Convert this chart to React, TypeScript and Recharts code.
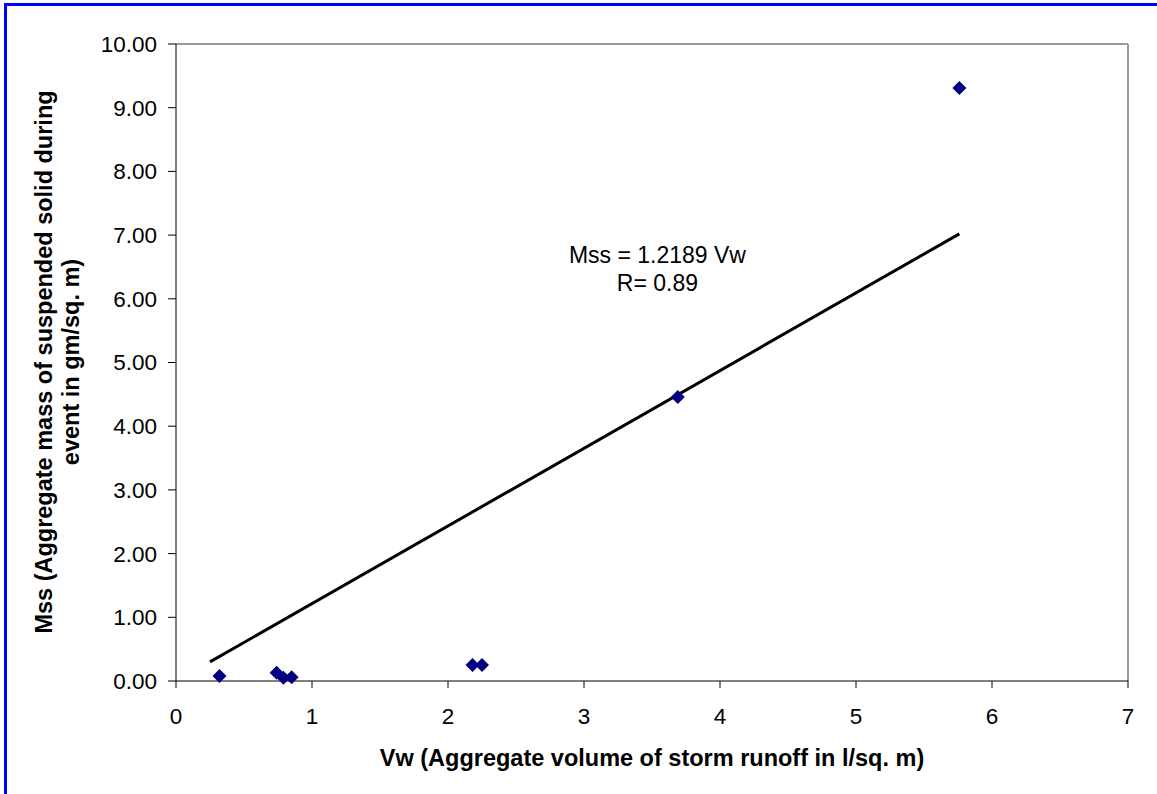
import React from "react"
import {
  ReferenceDot,
  ReferenceLine,
  Scatter,
  ScatterChart,
  XAxis,
  YAxis,
} from "recharts"

// observed events: Vw (l/sq. m) vs Mss (gm/sq. m)
const vwValues = [0.32, 0.74, 0.79, 0.85, 2.18, 2.25, 3.69, 5.76]
const mssValues = [0.08, 0.13, 0.05, 0.06, 0.25, 0.25, 4.46, 9.31]

// trend line endpoints (Mss = 1.2189 Vw)
const trendVw = [0.25, 5.76]
const trendMss = [0.3, 7.02]

const xTicks = [0, 1, 2, 3, 4, 5, 6, 7]
const yTicks = [0, 1, 2, 3, 4, 5, 6, 7, 8, 9, 10]

const points = vwValues.map((x, i) => ({ x, y: mssValues[i] }))
const trend = trendVw.map((x, i) => ({ x, y: trendMss[i] }))

const FONT = "'Liberation Sans', Arial, sans-serif"

const Diamond = (props: any) => {
  const { cx, cy } = props
  const r = 7
  return (
    <polygon
      points={`${cx},${cy - r} ${cx + r},${cy} ${cx},${cy + r} ${cx - r},${cy}`}
      fill="#000080"
    />
  )
}

const YTitle = () => (
  <text
    transform="translate(57, 362) rotate(-90)"
    textAnchor="middle"
    fontFamily={FONT}
    fontSize={23.5}
    fontWeight="bold"
    fill="#000"
  >
    <tspan x={0} dy={-5}>
      Mss (Aggregate mass of suspended solid during
    </tspan>
    <tspan x={0} dy={27}>
      event in gm/sq. m)
    </tspan>
  </text>
)

const Equation = (props: any) => {
  const { viewBox } = props
  const x = viewBox.x
  const y = viewBox.y
  return (
    <text
      textAnchor="middle"
      fontFamily={FONT}
      fontSize={23}
      fill="#000"
    >
      <tspan x={x} y={y + 8}>
        Mss = 1.2189 Vw
      </tspan>
      <tspan x={x} y={y + 36}>
        R= 0.89
      </tspan>
    </text>
  )
}

export default function App() {
  return (
    <div
      style={{
        position: "fixed",
        left: 0,
        top: 0,
        width: 1157,
        height: 794,
        background: "#fff",
      }}
    >
      <div
        style={{
          position: "absolute",
          left: 4,
          top: 3,
          width: 1160,
          height: 800,
          borderLeft: "3px solid #0000ff",
          borderTop: "3px solid #0000ff",
        }}
      />
      <div style={{ position: "absolute", left: 0, top: 0 }}>
        <ScatterChart
          width={1157}
          height={794}
          margin={{ top: 44, right: 29, left: 0, bottom: 0 }}
        >
          <XAxis
            type="number"
            dataKey="x"
            domain={[0, 7]}
            ticks={xTicks}
            interval={0}
            height={113}
            stroke="#000"
            tickSize={7}
            tickMargin={20}
            tick={{ fill: "#000", fontSize: 22.5, fontFamily: FONT }}
            label={{
              value: "Vw (Aggregate volume of storm runoff in l/sq. m)",
              position: "insideBottom",
              offset: 28,
              fill: "#000",
              fontSize: 23.5,
              fontWeight: "bold",
              fontFamily: FONT,
            }}
          />
          <YAxis
            type="number"
            dataKey="y"
            domain={[0, 10]}
            ticks={yTicks}
            interval={0}
            width={176}
            stroke="#000"
            tickSize={8}
            tickMargin={11}
            tickFormatter={(v: number) => v.toFixed(2)}
            tick={{ fill: "#000", fontSize: 22.5, fontFamily: FONT }}
            label={{ content: () => <YTitle /> }}
          />
          <ReferenceLine y={10} stroke="#999" strokeWidth={2} ifOverflow="extendDomain" />
          <ReferenceLine x={7} stroke="#999" strokeWidth={2} ifOverflow="extendDomain" />
          <Scatter
            data={trend}
            line={{ stroke: "#000", strokeWidth: 3 }}
            shape={() => null}
            isAnimationActive={false}
          />
          <Scatter data={points} shape={<Diamond />} isAnimationActive={false} />
          <ReferenceDot
            x={3.54}
            y={6.69}
            r={0}
            fill="none"
            stroke="none"
            label={{ content: (p: any) => <Equation {...p} /> }}
          />
        </ScatterChart>
      </div>
    </div>
  )
}
